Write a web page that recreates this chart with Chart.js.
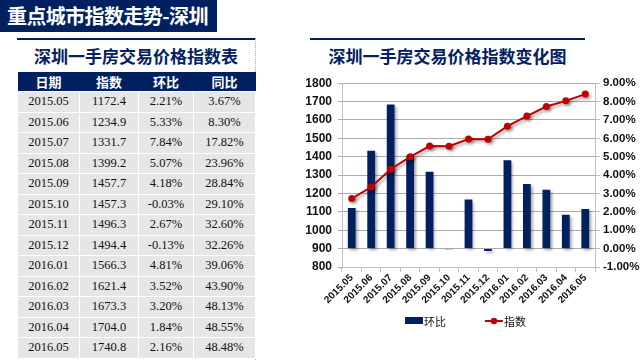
<!DOCTYPE html>
<html>
<head>
<meta charset="utf-8">
<script src="https://cdn.jsdelivr.net/npm/chart.js@4.4.0/dist/chart.umd.min.js"></script>
<style>
  html, body { margin: 0; padding: 0; background: #fff; }
  body { width: 643px; height: 363px; position: relative; overflow: hidden; font-family: "Noto Sans CJK SC", "Liberation Sans", sans-serif; }
  .title-bar { position: absolute; left: 0; top: 0; width: 217px; height: 32px; background: #002060; color: #fff;
    font-weight: bold; font-size: 20px; line-height: 32px; padding-left: 7px; box-sizing: border-box; white-space: nowrap; letter-spacing: -0.6px; }
  .rule { position: absolute; height: 2px; background: #002060; top: 38px; }
  .sub-title { position: absolute; top: 44px; font-weight: bold; font-size: 17px; color: #002060; text-align: center; line-height: 24px; }
  .dots { position: absolute; left: 255px; top: 38px; height: 322px; border-left: 1px dotted #b0b0b0; }
  table { position: absolute; left: 17px; top: 72px; border-collapse: collapse; table-layout: fixed; }
  thead tr { height: 19px; }
  tbody tr { height: 20.5px; }
  th { background: #002060; color: #fff; font-weight: bold; font-size: 13px; padding: 0; border: none; }
  td { background: #e6e6e6; color: #111; font-family: "Liberation Serif", serif; font-size: 12.5px; text-align: center;
    padding: 0; border: 1px solid #fff; border-top-width: 1.5px; }
  #chartBox { position: absolute; left: 280px; top: 70px; width: 363px; height: 245px; }
  .legend { position: absolute; top: 311px; font-size: 11px; color: #111; line-height: 16px; }
  .legend span { display: inline-block; vertical-align: middle; }
</style>
</head>
<body>
<div class="title-bar">重点城市指数走势-深圳</div>
<div class="rule" style="left:17px;width:238px"></div>
<div class="rule" style="left:310px;width:275px"></div>
<div class="sub-title" style="left:17px;width:238px">深圳一手房交易价格指数表</div>
<div class="sub-title" style="left:300px;width:295px">深圳一手房交易价格指数变化图</div>
<div class="dots"></div>
<table id="priceTable">
  <colgroup><col style="width:62px"><col style="width:59px"><col style="width:55px"><col style="width:62px"></colgroup>
  <thead><tr><th>日期</th><th>指数</th><th>环比</th><th>同比</th></tr></thead>
  <tbody></tbody>
</table>
<div id="chartBox"><canvas id="trendChart"></canvas></div>
<div class="legend" id="legendMom" style="left:405px"></div>
<div class="legend" id="legendIdx" style="left:485px"></div>
<script>
// data
const dates = ['2015.05', '2015.06', '2015.07', '2015.08', '2015.09', '2015.10', '2015.11',
               '2015.12', '2016.01', '2016.02', '2016.03', '2016.04', '2016.05'];
const indexValues = [1172.4, 1234.9, 1331.7, 1399.2, 1457.7, 1457.3, 1496.3, 1494.4, 1566.3, 1621.4, 1673.3, 1704.0, 1740.8];
const momValues = [2.21, 5.33, 7.84, 5.07, 4.18, -0.03, 2.67, -0.13, 4.81, 3.52, 3.20, 1.84, 2.16];
const yoyValues = [3.67, 8.30, 17.82, 23.96, 28.84, 29.10, 32.60, 32.26, 39.06, 43.90, 48.13, 48.55, 48.48];
const indexAxisRange = [800, 1800];
const momAxisRange = [-1, 9];

const NAVY = '#002060';
const RED = '#c00000';

// fill the table
const tbody = document.querySelector('#priceTable tbody');
dates.forEach((d, i) => {
    const tr = document.createElement('tr');
    [d, indexValues[i].toFixed(1), momValues[i].toFixed(2) + '%', yoyValues[i].toFixed(2) + '%'].forEach(v => {
        const td = document.createElement('td');
        td.textContent = v;
        tr.appendChild(td);
    });
    tbody.appendChild(tr);
});

// soft shadow like the office chart
const shadowPlugin = {
    id: 'shadow',
    beforeDatasetDraw(chart) {
        const ctx = chart.ctx;
        ctx.save();
        ctx.shadowColor = 'rgba(0,0,0,0.35)';
        ctx.shadowBlur = 3;
        ctx.shadowOffsetX = 2;
        ctx.shadowOffsetY = 2;
    },
    afterDatasetDraw(chart) {
        chart.ctx.restore();
    }
};

const chart = new Chart(document.getElementById('trendChart'), {
    type: 'bar',
    data: {
        labels: dates,
        datasets: [
            {
                type: 'bar',
                label: '环比',
                data: momValues,
                yAxisID: 'yMom',
                backgroundColor: NAVY,
                barPercentage: 0.4,
                categoryPercentage: 1,
                order: 2
            },
            {
                type: 'line',
                label: '指数',
                data: indexValues,
                yAxisID: 'yIndex',
                borderColor: RED,
                backgroundColor: RED,
                borderWidth: 2,
                pointRadius: 3.5,
                pointBackgroundColor: RED,
                pointBorderWidth: 0,
                tension: 0,
                order: 1
            }
        ]
    },
    plugins: [shadowPlugin],
    options: {
        responsive: true,
        maintainAspectRatio: false,
        animation: false,
        layout: { padding: { top: 11, left: 0, right: 0, bottom: 2 } },
        plugins: {
            tooltip: { enabled: false },
            legend: { display: false }
        },
        scales: {
            x: {
                offset: true,
                grid: { display: true, drawOnChartArea: false, offset: true, tickLength: 5, color: '#bfbfbf' },
                border: { color: '#bfbfbf' },
                ticks: { autoSkip: false, color: '#111', font: { family: 'Liberation Sans', size: 10, weight: 'bold' },
                         minRotation: 45, maxRotation: 45, padding: 0 },
                afterFit: s => { s.height = 46; }
            },
            yIndex: {
                position: 'left',
                min: indexAxisRange[0],
                max: indexAxisRange[1],
                ticks: { stepSize: 100, autoSkip: false, color: '#111', font: { family: 'Liberation Sans', size: 12, weight: 'bold' },
                         padding: 6, callback: v => String(v) },
                grid: { color: '#aaaaaa', tickLength: 4, drawTicks: true },
                border: { color: '#bfbfbf' },
                afterFit: s => { s.width = 62; }
            },
            yMom: {
                position: 'right',
                min: momAxisRange[0],
                max: momAxisRange[1],
                ticks: { stepSize: 1, autoSkip: false, color: '#111', font: { family: 'Liberation Sans', size: 11.5, weight: 'bold' },
                         padding: 3, callback: v => v.toFixed(2) + '%' },
                grid: { drawOnChartArea: false, tickLength: 5, color: '#bfbfbf' },
                border: { color: '#bfbfbf' },
                afterFit: s => { s.width = 48; }
            }
        }
    }
});

// legend in the slide style, built from the dataset labels
function legendSwatch(kind) {
    const c = document.createElement('canvas');
    c.width = 18; c.height = 8;
    const g = c.getContext('2d');
    if (kind === 'bar') {
        g.fillStyle = NAVY;
        g.fillRect(0, 0, 18, 7);
    } else {
        g.strokeStyle = RED; g.lineWidth = 2;
        g.beginPath(); g.moveTo(0, 4); g.lineTo(18, 4); g.stroke();
        g.fillStyle = RED;
        g.beginPath(); g.arc(9, 4, 3.2, 0, Math.PI * 2); g.fill();
    }
    const s = document.createElement('span');
    s.appendChild(c);
    s.style.marginRight = '1px';
    s.style.lineHeight = '0';
    return s;
}
[['legendMom', 0, 'bar'], ['legendIdx', 1, 'line']].forEach(([id, idx, kind]) => {
    const box = document.getElementById(id);
    box.appendChild(legendSwatch(kind));
    const t = document.createElement('span');
    t.textContent = chart.data.datasets[idx].label;
    box.appendChild(t);
});
</script>
</body>
</html>
